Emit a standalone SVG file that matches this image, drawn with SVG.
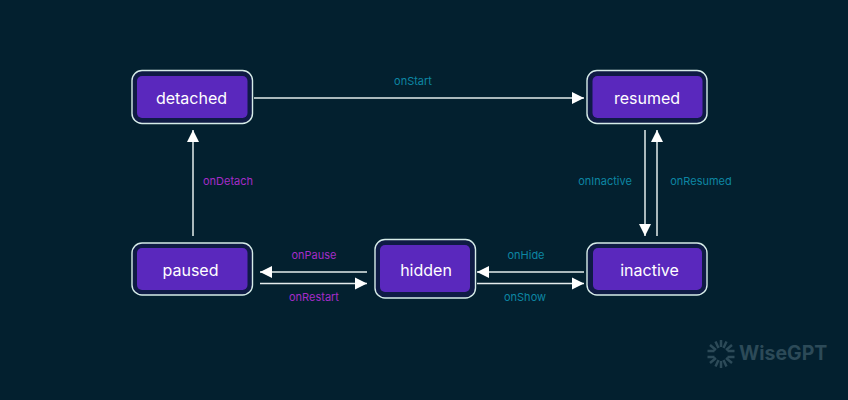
<svg xmlns="http://www.w3.org/2000/svg" width="848" height="400" viewBox="0 0 848 400">
<style>
.outer{fill:#0f1b45;stroke:#d6ece8;stroke-width:1.4}
.inner{fill:#5a28bd}
.name{font:400 16px Inter,"Liberation Sans",sans-serif;fill:#fff;text-anchor:middle}
.lbl{font:400 11px Inter,"Liberation Sans",sans-serif;text-anchor:middle}
.t{fill:#0d86a3}
.m{fill:#a52cc8}
.c{stroke:#e4ecec;stroke-width:1.500;fill:none;marker-end:url(#ah)}
.tick{stroke:#2c4a58;stroke-width:2.500;fill:none}
</style>
<defs>
<marker id="ah" markerUnits="userSpaceOnUse" markerWidth="13" markerHeight="13" refX="12.500" refY="6.500" orient="auto">
<path d="M0.500 0.500L12.500 6.500L0.500 12.500Z" fill="#fff"/>
</marker>
</defs>
<rect width="848" height="400" fill="#03202f"/>
<g id="connectors">
<path class="c" d="M254 98H584"/>
<path class="c" d="M193 236V130"/>
<path class="c" d="M367 272H260"/>
<path class="c" d="M260 283.500H367"/>
<path class="c" d="M584 272H477"/>
<path class="c" d="M477 283.500H584"/>
<path class="c" d="M645 130V236"/>
<path class="c" d="M657 236V130"/>
</g>
<g id="labels">
<text class="lbl t" x="413" y="85">onStart</text>
<text class="lbl m" x="228" y="185">onDetach</text>
<text class="lbl t" x="605" y="185">onInactive</text>
<text class="lbl t" x="701" y="185">onResumed</text>
<text class="lbl m" x="314" y="259">onPause</text>
<text class="lbl m" x="314" y="301">onRestart</text>
<text class="lbl t" x="526" y="259">onHide</text>
<text class="lbl t" x="525" y="301">onShow</text>
</g>
<g id="detached">
<rect class="outer" x="132" y="70.500" width="120.500" height="53" rx="10"/>
<rect class="inner" x="137" y="76" width="110.500" height="42" rx="5"/>
<text class="name" x="191.500" y="103.500">detached</text>
</g>
<g id="resumed">
<rect class="outer" x="587" y="70.500" width="120" height="53" rx="10"/>
<rect class="inner" x="592.500" y="76" width="110" height="42" rx="5"/>
<text class="name" x="647" y="103.500">resumed</text>
</g>
<g id="paused">
<rect class="outer" x="132" y="243" width="120.500" height="52" rx="10"/>
<rect class="inner" x="137" y="248" width="110.500" height="42" rx="5"/>
<text class="name" x="190.500" y="276">paused</text>
</g>
<g id="hidden">
<rect class="outer" x="375" y="239.500" width="100.500" height="58.500" rx="10"/>
<rect class="inner" x="380" y="245" width="90" height="47" rx="5"/>
<text class="name" x="426" y="276">hidden</text>
</g>
<g id="inactive">
<rect class="outer" x="587" y="243" width="120" height="52" rx="10"/>
<rect class="inner" x="593" y="248" width="109" height="42" rx="5"/>
<text class="name" x="649.500" y="276">inactive</text>
</g>
<g id="logo">
<path class="tick" d="M721 340V347M715.500 341.500L718.500 348M726.500 341.500L723.500 348M710 345L716 350M732 345L726 350M707.500 351H714.500M734.500 351H727.500M707.500 357H714.500M734.500 357H727.500M710 363L716 358M732 363L726 358M715.500 366.500L718.500 360M726.500 366.500L723.500 360M721 368V361"/>
<text x="739" y="360" style="font:700 19.500px Inter,'Liberation Sans',sans-serif" fill="#2c4a58">WiseGPT</text>
</g>
</svg>
